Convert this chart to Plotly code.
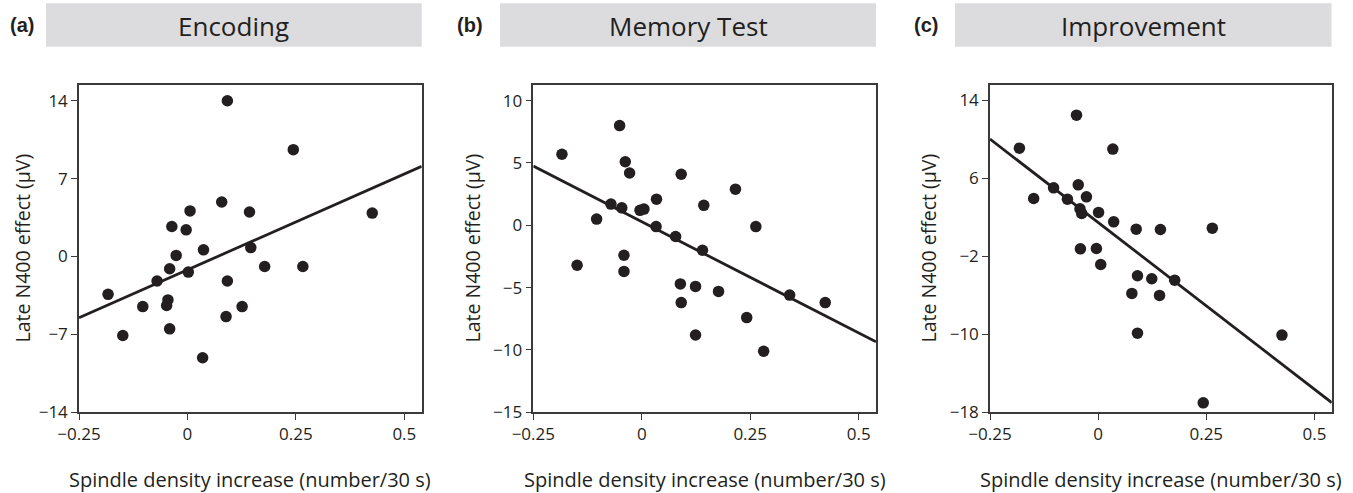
import plotly.graph_objects as go

# ---------------- data ----------------
panel_labels = ["(a)", "(b)", "(c)"]
panel_titles = ["Encoding", "Memory Test", "Improvement"]
x_title = "Spindle density increase (number/30 s)"
y_title = "Late N400 effect (\u03bcV)"

x_ticks = [-0.25, 0, 0.25, 0.5]
x_ticktext = ["\u22120.25", "0", "0.25", "0.5"]

yticks_a = [-14, -7, 0, 7, 14]
yticks_b = [-15, -10, -5, 0, 5, 10]
yticks_c = [-18, -10, -2, 6, 14]

xa = [0.092, 0.244, 0.426, 0.079, 0.006, 0.143, -0.036, -0.003, -0.026, 0.037,
      0.146, 0.178, 0.266, -0.041, 0.002, -0.070, 0.092, -0.183, -0.045, -0.048,
      -0.103, 0.126, 0.089, -0.041, -0.149, 0.035]
ya = [14.0, 9.6, 3.9, 4.9, 4.1, 4.0, 2.7, 2.4, 0.1, 0.6,
      0.8, -0.9, -0.9, -1.1, -1.4, -2.2, -2.2, -3.4, -3.9, -4.4,
      -4.5, -4.5, -5.4, -6.5, -7.1, -9.1]

xb = [-0.051, -0.184, -0.038, -0.028, 0.091, 0.216, 0.034, -0.071, -0.046, 0.143,
      -0.004, 0.005, -0.104, 0.263, 0.033, 0.078, 0.140, -0.041, -0.149, -0.041,
      0.089, 0.124, 0.177, 0.341, 0.423, 0.091, 0.242, 0.124, 0.281]
yb = [8.0, 5.7, 5.1, 4.2, 4.1, 2.9, 2.1, 1.7, 1.4, 1.6,
      1.2, 1.3, 0.5, -0.1, -0.1, -0.9, -2.0, -2.4, -3.2, -3.7,
      -4.7, -4.9, -5.3, -5.6, -6.2, -6.2, -7.4, -8.8, -10.1]

xc = [-0.050, -0.182, 0.034, -0.103, -0.046, -0.149, -0.071, -0.027, -0.042, -0.038,
      0.001, 0.036, 0.088, 0.144, 0.264, -0.041, -0.004, 0.006, 0.091, 0.124,
      0.177, 0.078, 0.142, 0.091, 0.425, 0.243]
yc = [12.45, 9.07, 8.97, 5.0, 5.31, 3.91, 3.84, 4.08, 2.85, 2.38,
      2.48, 1.52, 0.77, 0.73, 0.87, -1.25, -1.21, -2.85, -4.01, -4.32,
      -4.46, -5.82, -6.02, -9.89, -10.09, -17.03]

fit_x = [-0.25, 0.54]
fit_a = [-5.5, 8.1]
fit_b = [4.75, -9.35]
fit_c = [10.0, -17.0]

# ---------------- layout constants ----------------
W, H = 1353, 493
INK = "#231f20"
AXC = "#3a3a3a"
BAR = "#dcdcdf"
FONT = "Open Sans"

x_range = [-0.25, 0.54]
y_ranges = [[-14, 15.44], [-15, 11.28], [-18, 15.57]]
xdoms = [[79 / W, 421.7 / W], [533.3 / W, 876 / W], [990 / W, 1331.7 / W]]
ydom = [1 - 412.3 / H, 1 - 84.7 / H]
bars = [[46 / W, 421.7 / W], [500 / W, 876 / W], [955 / W, 1331.5 / W]]
lab_x = [21.5 / W, 470.5 / W, 925.5 / W]
ytitle_x = [22 / W, 472 / W, 928 / W]

fig = go.Figure()
series = [(xa, ya, fit_a), (xb, yb, fit_b), (xc, yc, fit_c)]
ytick_sets = [yticks_a, yticks_b, yticks_c]

for i, (xs, ys, fit) in enumerate(series):
    sfx = "" if i == 0 else str(i + 1)
    fig.add_trace(go.Scatter(
        x=fit_x, y=fit, mode="lines",
        line=dict(color=INK, width=2.8),
        xaxis="x" + sfx, yaxis="y" + sfx, showlegend=False, hoverinfo="skip"))
    fig.add_trace(go.Scatter(
        x=xs, y=ys, mode="markers",
        marker=dict(color=INK, size=11.5, line=dict(width=0)),
        xaxis="x" + sfx, yaxis="y" + sfx, showlegend=False))

    common = dict(showline=True, linecolor=AXC, linewidth=1.5, mirror=True,
                  ticks="outside", ticklen=6, tickwidth=1.2, tickcolor=AXC,
                  showgrid=False, zeroline=False, automargin=False,
                  tickfont=dict(family=FONT, size=17, color=INK))
    fig.update_layout(**{
        "xaxis" + sfx: dict(domain=xdoms[i], range=x_range, anchor="y" + sfx,
                           tickvals=x_ticks, ticktext=x_ticktext, **common),
        "yaxis" + sfx: dict(domain=ydom, range=y_ranges[i], anchor="x" + sfx,
                           tickvals=ytick_sets[i],
                           ticktext=[str(v).replace("-", "\u2212") for v in ytick_sets[i]],
                           **common),
    })

    # header bar
    fig.add_shape(type="rect", xref="paper", yref="paper",
                  x0=bars[i][0], x1=bars[i][1], y0=1 - 46.7 / H, y1=1 - 3.3 / H,
                  fillcolor=BAR, line=dict(width=0), layer="below")
    fig.add_annotation(xref="paper", yref="paper",
                       x=(bars[i][0] + bars[i][1]) / 2, y=1 - 26 / H,
                       text=panel_titles[i], showarrow=False,
                       font=dict(family=FONT, size=26, color=INK),
                       xanchor="center", yanchor="middle")
    fig.add_annotation(xref="paper", yref="paper", x=lab_x[i], y=1 - 25 / H,
                       text="<b>" + panel_labels[i] + "</b>", showarrow=False,
                       font=dict(family="Liberation Sans", size=20, color=INK),
                       xanchor="center", yanchor="middle")
    # axis titles
    fig.add_annotation(xref="paper", yref="paper",
                       x=(xdoms[i][0] + xdoms[i][1]) / 2, y=1 - 479 / H,
                       text=x_title, showarrow=False,
                       font=dict(family=FONT, size=20, color=INK),
                       xanchor="center", yanchor="middle")
    fig.add_annotation(xref="paper", yref="paper",
                       x=ytitle_x[i], y=(ydom[0] + ydom[1]) / 2,
                       text=y_title, showarrow=False, textangle=-90,
                       font=dict(family=FONT, size=19.5, color=INK),
                       xanchor="center", yanchor="middle")

fig.update_layout(width=W, height=H, autosize=False, template="none",
                  margin=dict(l=0, r=0, t=0, b=0, pad=0, autoexpand=False),
                  paper_bgcolor="white", plot_bgcolor="white",
                  showlegend=False)

fig.write_html("out.html", config={"responsive": False, "displayModeBar": False},
               post_script="document.body.style.margin='0';"
                           "document.body.style.overflow='hidden';")
